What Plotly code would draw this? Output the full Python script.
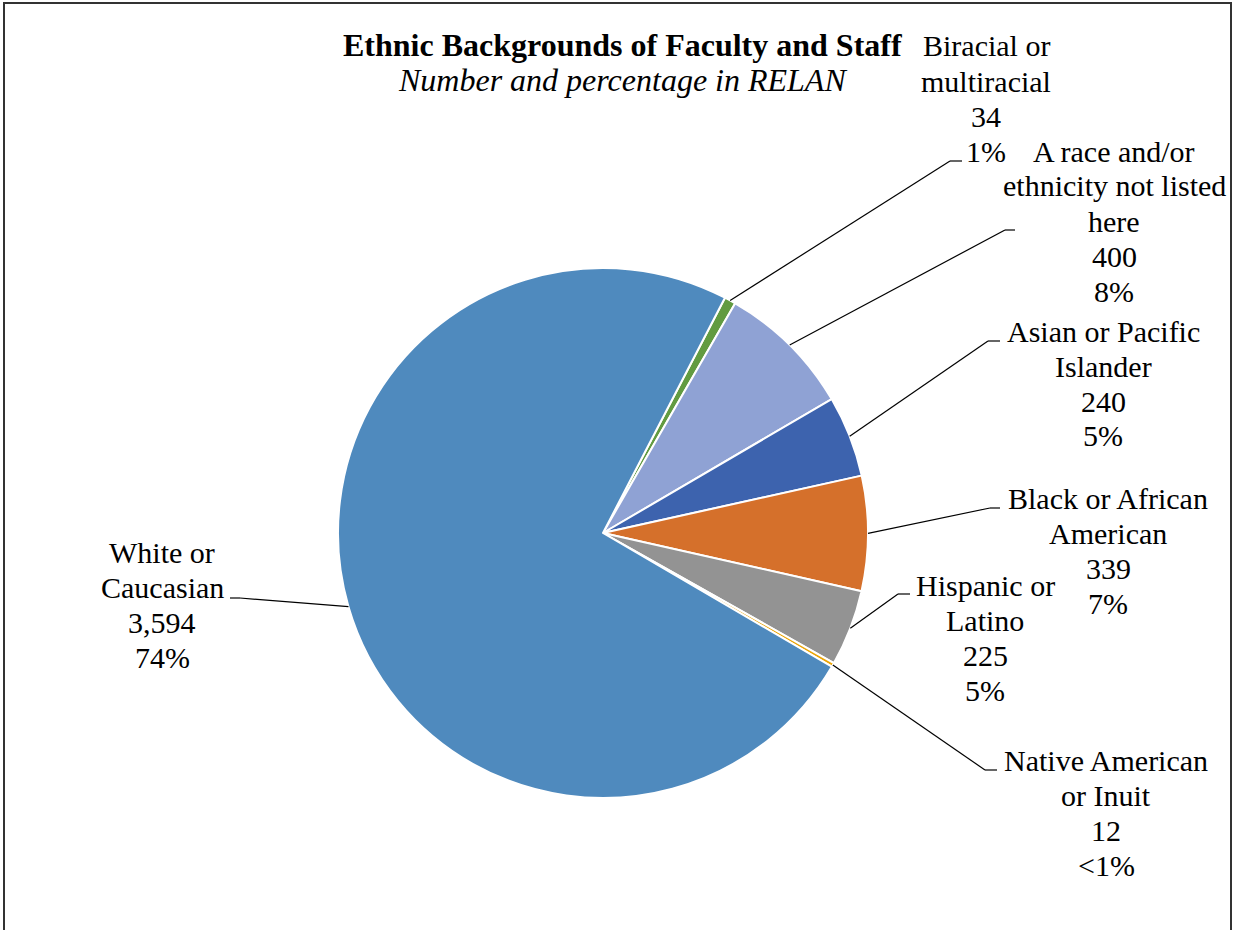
"""
Ethnic backgrounds of faculty and staff - pie chart with outside callout labels.
"""

import math
import plotly.graph_objects as go

# ---- data ----
categories = [
    "Biracial or multiracial",
    "A race and/or ethnicity not listed here",
    "Asian or Pacific Islander",
    "Black or African American",
    "Hispanic or Latino",
    "Native American or Inuit",
    "White or Caucasian",
]
counts = [34, 400, 240, 339, 225, 12, 3594]
colors = ["#629B41", "#8FA2D4", "#3D63AE", "#D5702B", "#939393", "#EBA506", "#4F8ABE"]

# how each category name is broken across lines in its callout
label_lines = [
    ["Biracial or", "multiracial"],
    ["A race and/or", "ethnicity not listed", "here"],
    ["Asian or Pacific", "Islander"],
    ["Black or African", "American"],
    ["Hispanic or", "Latino"],
    ["Native American", "or Inuit"],
    ["White or", "Caucasian"],
]

# ---- layout (pixels) ----
W, H = 1235, 930
CX, CY, R = 603, 533, 265
ROTATION = 27.4
LINE_GAP = 35

# label block: (centre x, first line y), leader elbow (x, y), leader end x
label_pos = [
    (986, 46), (1114, 151), (1103, 331), (1108, 498),
    (985, 585), (1106, 760), (162, 552),
]
elbows = [
    (950, 161, 962), (1005, 230, 1015), (988, 341, 1000), (990, 508, 1000),
    (898, 594, 910), (985, 770, 997), (240, 598, 230),
]


def px(x):
    return x / W


def py(y):
    return 1 - y / H


def pct_text(v, total):
    p = round(v / total * 100)
    return "<1%" if p < 1 else f"{p}%"


total = sum(counts)

fig = go.Figure()
fig.add_trace(go.Pie(
    labels=categories,
    values=counts,
    sort=False,
    direction="clockwise",
    rotation=ROTATION,
    textinfo="none",
    hoverinfo="label+value+percent",
    marker=dict(colors=colors, line=dict(color="white", width=2)),
    domain=dict(x=[px(CX - R), px(CX + R)], y=[py(CY + R), py(CY - R)]),
    showlegend=False,
))

annotations = []
shapes = []

# callout labels and leader lines
cum = 0
for i, v in enumerate(counts):
    mid = ROTATION + (cum + v / 2) / total * 360
    cum += v
    ax = CX + R * math.sin(math.radians(mid))
    ay = CY - R * math.cos(math.radians(mid))
    ex, ey, endx = elbows[i]
    shapes.append(dict(type="line", xref="paper", yref="paper",
                       x0=px(ax), y0=py(ay), x1=px(ex), y1=py(ey),
                       line=dict(color="black", width=1.2)))
    shapes.append(dict(type="line", xref="paper", yref="paper",
                       x0=px(ex), y0=py(ey), x1=px(endx), y1=py(ey),
                       line=dict(color="black", width=1.2)))

    lines = label_lines[i] + [f"{v:,}", pct_text(v, total)]
    lx, ly = label_pos[i]
    for j, t in enumerate(lines):
        annotations.append(dict(
            text=t, x=px(lx), y=py(ly + j * LINE_GAP), xref="paper", yref="paper",
            showarrow=False, xanchor="center", yanchor="middle",
            font=dict(family="Liberation Serif", size=30, color="black"),
        ))

# title and subtitle
annotations.append(dict(
    text="<b>Ethnic Backgrounds of Faculty and Staff</b>", x=px(622), y=py(45),
    xref="paper", yref="paper", showarrow=False, xanchor="center", yanchor="middle",
    font=dict(family="Liberation Serif", size=32, color="black"),
))
annotations.append(dict(
    text="<i>Number and percentage in RELAN</i>", x=px(622), y=py(80),
    xref="paper", yref="paper", showarrow=False, xanchor="center", yanchor="middle",
    font=dict(family="Liberation Serif", size=32, color="black"),
))

# outer frame (bottom edge runs off the page)
shapes.append(dict(type="rect", xref="paper", yref="paper",
                   x0=px(4), x1=px(1231), y0=-0.05, y1=py(3),
                   line=dict(color="#333333", width=2)))

fig.update_layout(
    width=W,
    height=H,
    autosize=False,
    margin=dict(l=0, r=0, t=0, b=0),
    paper_bgcolor="white",
    plot_bgcolor="white",
    annotations=annotations,
    shapes=shapes,
)

fig.write_html("out.html", config={"displayModeBar": False},
               post_script="document.body.style.margin='0';")
